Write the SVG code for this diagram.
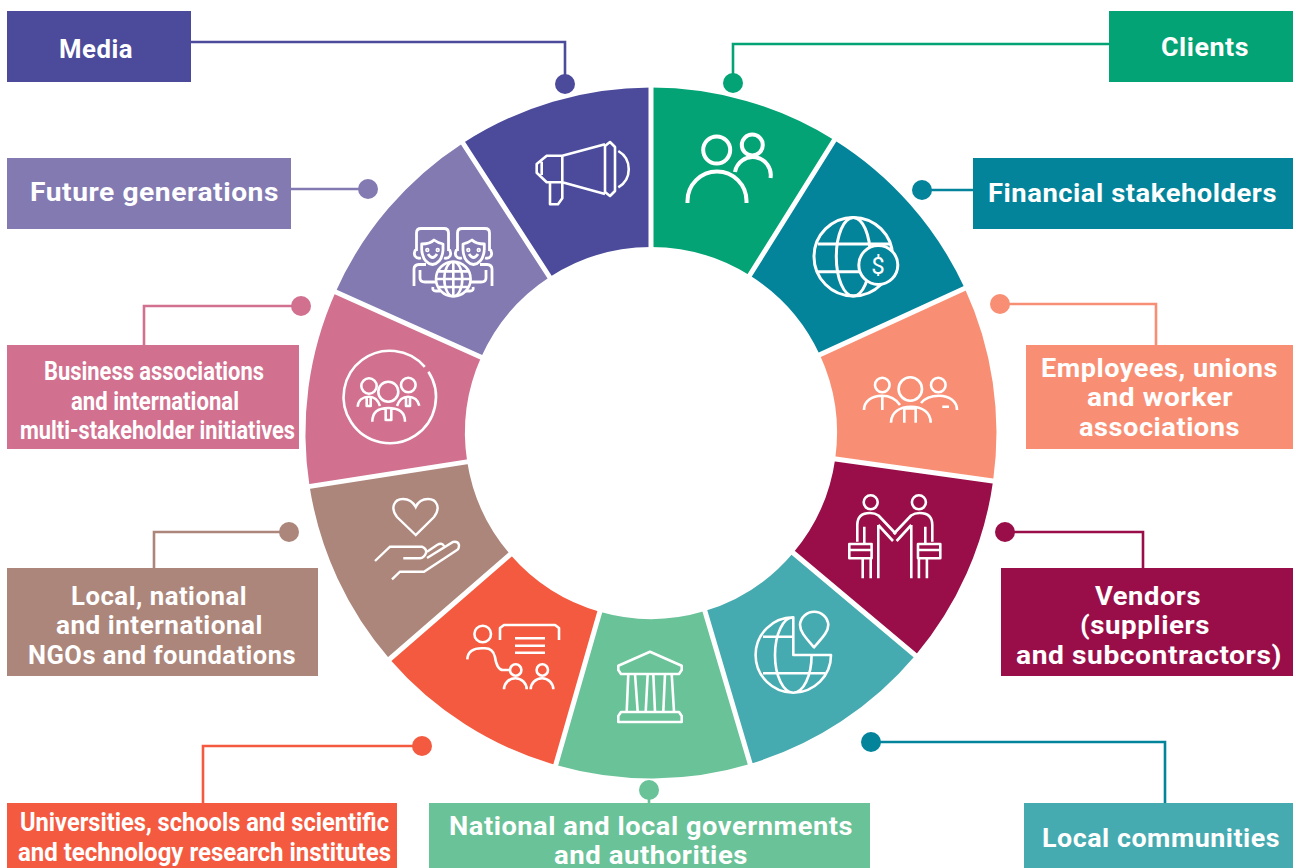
<svg xmlns="http://www.w3.org/2000/svg" xmlns:xlink="http://www.w3.org/1999/xlink" width="1296" height="868" viewBox="0 0 1296 868">
<style>
text{font-family:Roboto,"Liberation Sans",sans-serif;font-weight:700;font-size:25.5px;fill:#fff;letter-spacing:.5px}
.i{fill:none;stroke:#fff;stroke-width:2.6;stroke-linejoin:round}
.i2{fill:none;stroke:#fff;stroke-width:2}
.sep{stroke:#fff;stroke-width:5;fill:none}
.c{fill:none;stroke-width:2.6}
</style>
<rect width="1296" height="868" fill="#fff"/>
<g id="ring">
<path fill="#4b4a9b" d="M462.8 143.2A345.5 345.5 0 0 1 651 87.5V247A186 186 0 0 0 549.7 277Z"/>
<path fill="#03a375" d="M651 87.5A345.5 345.5 0 0 1 834.1 140L749.6 275.3A186 186 0 0 0 651 247Z"/>
<path fill="#03849b" d="M834.1 140A345.5 345.5 0 0 1 964.6 288.1L819.9 355A186 186 0 0 0 749.6 275.3Z"/>
<path fill="#f88f74" d="M964.6 288.1A345.5 345.5 0 0 1 993.1 481.1L835.2 458.9A186 186 0 0 0 819.9 355Z"/>
<path fill="#990e49" d="M993.1 481.1A345.5 345.5 0 0 1 915.3 655.5L793.3 552.8A186 186 0 0 0 835.2 458.9Z"/>
<path fill="#46abb0" d="M915.3 655.5A345.5 345.5 0 0 1 750.8 763.7L704.8 611.1A186 186 0 0 0 793.3 552.8Z"/>
<path fill="#69c298" d="M750.8 763.7A345.5 345.5 0 0 1 555.8 765.1L599.7 611.8A186 186 0 0 0 704.8 611.1Z"/>
<path fill="#f45a3f" d="M555.8 765.1A345.5 345.5 0 0 1 389.8 659.2L510.4 554.8A186 186 0 0 0 599.7 611.8Z"/>
<path fill="#ac867b" d="M389.8 659.2A345.5 345.5 0 0 1 309.6 486.4L467.2 461.8A186 186 0 0 0 510.4 554.8Z"/>
<path fill="#d1708f" d="M309.6 486.4A345.5 345.5 0 0 1 335.6 291.9L481.2 357.1A186 186 0 0 0 467.2 461.8Z"/>
<path fill="#837ab2" d="M335.6 291.9A345.5 345.5 0 0 1 462.8 143.2L549.7 277A186 186 0 0 0 481.2 357.1Z"/>
<path class="sep" d="M651 82V250M840 131L748 278M972 285L817 356M1000 482L832 458.5M922 661L791 551M752 770L704 608M554 771L600.6 609M384 664L513 552M302 487.6L470 461.4M329 289L484 358.5M459 137L551.5 280"/>
</g>
<g id="connectors">
<path class="c" stroke="#4b4a9b" d="M191 42H565V84"/>
<path class="c" stroke="#03a375" d="M1109 44H733V83"/>
<path class="c" stroke="#837ab2" d="M291 189H368"/>
<path class="c" stroke="#03849b" d="M973 190H922"/>
<path class="c" stroke="#f88f74" d="M1156 345V304H1000"/>
<path class="c" stroke="#d1708f" d="M144 345V306H301"/>
<path class="c" stroke="#990e49" d="M1143 568V532H1005"/>
<path class="c" stroke="#ac867b" d="M154 568V532H289"/>
<path class="c" stroke="#03849b" d="M1165 803V742H871"/>
<path class="c" stroke="#f45a3f" d="M203 803V746H422"/>
<path class="c" stroke="#69c298" d="M649 803V790"/>
<circle cx="565" cy="84" r="10" fill="#4b4a9b"/>
<circle cx="733" cy="83" r="10" fill="#03a375"/>
<circle cx="368" cy="189" r="10" fill="#837ab2"/>
<circle cx="922" cy="190" r="10" fill="#03849b"/>
<circle cx="1000" cy="304" r="10" fill="#f88f74"/>
<circle cx="301" cy="306" r="10" fill="#d1708f"/>
<circle cx="1005" cy="532" r="10" fill="#990e49"/>
<circle cx="289" cy="532" r="10" fill="#ac867b"/>
<circle cx="871" cy="742" r="10" fill="#03849b"/>
<circle cx="422" cy="746" r="10" fill="#f45a3f"/>
<circle cx="649" cy="790" r="10" fill="#69c298"/>
</g>
<g id="media">
<rect x="7" y="11" width="184" height="71" fill="#4b4a9b"/>
<text x="59" y="58" textLength="74" lengthAdjust="spacingAndGlyphs">Media</text>
<g class="i"><path d="M546.7 155.7L536.7 164V172.7L546.7 182.3H562.3V155.7ZM541.7 161.7V175M562.3 155.7L605 144.3M562.3 182.3L605 194M605 146L610 142L615 147V191L610 196L605 192ZM550 183V204.3H558L562.3 198.3V183M618.3 151A21 21 0 0 1 618.3 187.3"/></g>
</g>
<g id="clients">
<rect x="1109" y="11" width="184" height="71" fill="#03a375"/>
<text x="1161" y="56" textLength="88" lengthAdjust="spacingAndGlyphs">Clients</text>
<g class="i" style="stroke-width:4"><circle cx="716.7" cy="150" r="13.5"/><path d="M687.5 203V201A29.5 29.5 0 0 1 746.5 201V203"/><circle cx="752.3" cy="145" r="10.5"/><path d="M735 172A18 18 0 0 1 770.5 178"/></g>
</g>
<g id="financial">
<rect x="973" y="158" width="320" height="71" fill="#03849b"/>
<text x="988" y="202" textLength="289" lengthAdjust="spacingAndGlyphs">Financial stakeholders</text>
<g class="i" style="stroke-width:3"><circle cx="853.3" cy="256.7" r="39.3"/><ellipse cx="853.3" cy="256.7" rx="17" ry="39.3"/><path d="M818 244H890M816 271.7H885"/><circle cx="878.3" cy="265" r="19.5" fill="#03849b"/></g>
<text x="878.3" y="274" text-anchor="middle" style="font-size:24px;font-weight:400">$</text>
</g>
<g id="employees">
<rect x="1026" y="345" width="267" height="104" fill="#f88f74"/>
<text x="1041" y="377" textLength="237" lengthAdjust="spacingAndGlyphs">Employees, unions</text>
<text x="1087" y="406" textLength="146" lengthAdjust="spacingAndGlyphs">and worker</text>
<text x="1079" y="436" textLength="161" lengthAdjust="spacingAndGlyphs">associations</text>
<g class="i"><circle cx="910.3" cy="389" r="11.7"/><path d="M891 422.7C891 412 900 406.7 911 406.7C922 406.7 930.7 412 930.7 422.7M904.3 422.7V408.5M915.7 422.7V408.5M904.3 408.5H915.7"/><circle cx="882.3" cy="385" r="7.3"/><path d="M864 410C864 401 872 395.7 882 395.7C890 395.7 896 399 900 405M882.3 397V410"/><circle cx="938.3" cy="385" r="7.3"/><path d="M921 403C925 398 931 395.7 939 395.7C949 395.7 957 401 957 410M942.3 406.7H949"/></g>
</g>
<g id="vendors">
<rect x="1001" y="568" width="292" height="108" fill="#990e49"/>
<text x="1095" y="605" textLength="106" lengthAdjust="spacingAndGlyphs">Vendors</text>
<text x="1080" y="634" textLength="130" lengthAdjust="spacingAndGlyphs">(suppliers</text>
<text x="1016" y="664" textLength="266" lengthAdjust="spacingAndGlyphs">and subcontractors)</text>
<g id="vfig" class="i"><circle cx="870.7" cy="502.3" r="7"/><path d="M857.3 541.7V525Q857.3 513 870 513Q875 513 878.5 515.5L896 534M878.3 525L893 541M878.3 525V578.3M864.3 526.7V544M849.3 544H871.6V558.3H849.3ZM849.3 550H871.6M862.7 558.3V578.3M870.7 558.3V578.3"/></g>
<use xlink:href="#vfig" href="#vfig" transform="translate(1789.6 0) scale(-1 1)"/>
</g>
<g id="local-communities">
<rect x="1024" y="803" width="269" height="65" fill="#46abb0"/>
<text x="1042" y="847" textLength="238" lengthAdjust="spacingAndGlyphs">Local communities</text>
<g class="i"><path d="M793.3 617.3A37.7 37.7 0 1 0 831 655H793.3ZM793.3 617.3A18.3 37.7 0 0 0 793.3 692.7A18.3 37.7 0 0 0 811.6 655M763 636.7H793.3M763 673.3H825"/><path d="M814 647.3C806 638 800 632 800 624.7A14.2 14.2 0 0 1 828.3 624.7C828.3 632 822 638 814 647.3Z"/></g>
</g>
<g id="national">
<rect x="429" y="803" width="441" height="65" fill="#69c298"/>
<text x="449" y="835" textLength="404" lengthAdjust="spacingAndGlyphs">National and local governments</text>
<text x="554" y="864" textLength="194" lengthAdjust="spacingAndGlyphs">and authorities</text>
<g class="i"><path d="M650 651.7L618.3 665.7V670L621 674H679L681.7 670V665.7ZM628.3 674L626.7 711.7M635 674L637.7 711.7M647.7 674L645.7 711.7M653.3 674L655 711.7M665 674L663.3 711.7M671.7 674L674 711.7M618.3 722V716L621 712H679L681.7 716V722Z"/></g>
</g>
<g id="universities">
<rect x="7" y="803" width="390" height="65" fill="#f45a3f"/>
<text x="20" y="831" textLength="369" lengthAdjust="spacingAndGlyphs" style="letter-spacing:0">Universities, schools and scientific</text>
<text x="18" y="861" textLength="373" lengthAdjust="spacingAndGlyphs" style="letter-spacing:0">and technology research institutes</text>
<g class="i"><circle cx="482.7" cy="634" r="8.3"/><path d="M467.3 659.3Q468 648.3 482 648.3H485Q493 648.3 495 657Q497 670 503 670H510M500 640V628L504 625H555L559 628V640M515 638.3H545M515 645.7H545M515 652.7H545"/><circle cx="515.7" cy="670" r="5.7"/><circle cx="542.3" cy="670" r="5.7"/><path d="M504 689.3A11.3 11 0 0 1 526.7 689.3M530.7 689.3A11.3 11 0 0 1 553.3 689.3"/></g>
</g>
<g id="ngos">
<rect x="7" y="568" width="311" height="108" fill="#ac867b"/>
<text x="71" y="605" textLength="176" lengthAdjust="spacingAndGlyphs">Local, national</text>
<text x="56" y="634" textLength="207" lengthAdjust="spacingAndGlyphs">and international</text>
<text x="28" y="664" textLength="268" lengthAdjust="spacingAndGlyphs">NGOs and foundations</text>
<g class="i2"><path d="M415.7 535L397 517C390 508 394 499 403 499C409 499 413 502 415.7 507C418 502 422 499 428 499C437 499 441 508 434 517Z" style="stroke-width:2.4"/><path d="M375 561L390 546.7H422Q427 549 426 553Q424 558 420 558.3H403.3M427 551.7L437 545Q442 542 444 546M427 558L453 542Q458 541 459 545Q459 549 457 550L424 571.7H400L392 579.3" style="stroke-width:2.4"/></g>
</g>
<g id="business">
<rect x="7" y="345" width="292" height="104" fill="#d1708f"/>
<text x="44" y="380" textLength="220" lengthAdjust="spacingAndGlyphs" style="letter-spacing:0">Business associations</text>
<text x="71" y="410" textLength="168" lengthAdjust="spacingAndGlyphs" style="letter-spacing:0">and international</text>
<text x="20" y="439" textLength="275" lengthAdjust="spacingAndGlyphs" style="letter-spacing:0">multi-stakeholder initiatives</text>
<g class="i"><path d="M428.4 371.7A46.15 46.15 0 0 1 351.2 422.3A46.15 46.15 0 0 1 424.8 366.9"/><circle cx="388.3" cy="391.7" r="10"/><circle cx="369" cy="386" r="7.7"/><circle cx="408.3" cy="385" r="7.3"/><path d="M372.3 421.7C372.3 411 380 408 388.3 408C397 408 405 411 405 421.7M385.7 407V420H391.3V407M357.7 406.7C358 400 363 396.7 369 396.7C374 396.7 378 400 380 406M366.7 396.7V406H370.7V396.7M419.3 405.7C418 400 414 396.7 408 396.7C402 396.7 399 400 397 406M406 396.7V406H410V396.7"/></g>
</g>
<g id="future">
<rect x="7" y="158" width="284" height="71" fill="#837ab2"/>
<text x="30" y="201" textLength="249" lengthAdjust="spacingAndGlyphs">Future generations</text>
<g id="kid" class="i" style="stroke-width:2.8"><path d="M416.5 251V233Q416.5 228.5 421 228.5H444Q448.5 228.5 448.5 233V251M421.7 250V244Q430 244 434 240Q438 243 443 244V250M421.7 250Q423 263 432.5 264.5Q442 263 443 250M417 248Q413 252 415 256Q417 259 421 258M448 248Q452 252 450 256Q448 259 444 258M428 254Q432.5 261 437 254M414 286V269Q414 265 419 264.5H426M420 270V278Q420 282 425 282H436M433 287Q432 291 436 291H440"/><circle cx="427.3" cy="250" r=".8"/><circle cx="437.7" cy="250" r=".8"/></g>
<use xlink:href="#kid" href="#kid" transform="translate(906 0) scale(-1 1)"/>
<g class="i"><circle cx="453.3" cy="279" r="17.3" fill="#837ab2"/><ellipse cx="453.3" cy="279" rx="9" ry="17.3"/><path d="M453.3 261.7V296.3M436 279H470.6M438.5 271.4H468M438.5 287H468"/></g>
</g>
</svg>
